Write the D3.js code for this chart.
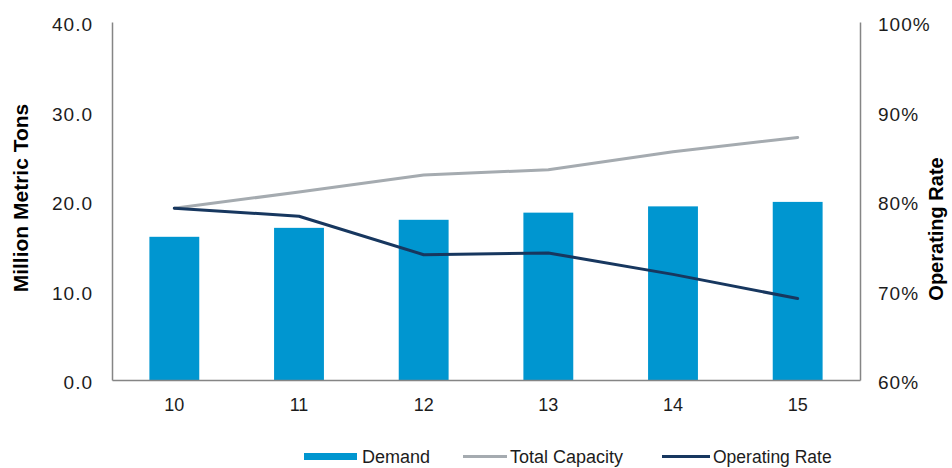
<!DOCTYPE html>
<html>
<head>
<meta charset="utf-8">
<script src="https://cdn.jsdelivr.net/npm/d3@7"></script>
<style>
  html, body { margin: 0; padding: 0; background: #fff; }
  svg { display: block; font-family: "Liberation Sans", Arial, sans-serif; }
</style>
</head>
<body>
<svg id="chart" width="952" height="468"></svg>
<script>
// Years (20xx) on the category axis
const years = ["10", "11", "12", "13", "14", "15"];
// Demand, million metric tons (bars, left axis)
const demand = [16.0, 17.0, 17.9, 18.7, 19.4, 19.9];
// Total capacity, million metric tons (grey line, left axis)
const capacity = [19.2, 21.0, 22.9, 23.5, 25.5, 27.1];
// Operating rate, percent (navy line, right axis)
const operatingRate = [79.2, 78.3, 74.0, 74.2, 71.8, 69.1];
// Axis ticks
const leftTicks = [0, 10, 20, 30, 40];
const rightTicks = [60, 70, 80, 90, 100];

const colors = { demand: "#0096D0", capacity: "#A5ABB0", rate: "#17375F", axis: "#858585", text: "#1c1c1c" };

const svg = d3.select("#chart");
const plot = { left: 112, right: 860, top: 22, bottom: 380 };

const x = d3.scaleBand().domain(years).range([plot.left, plot.right]).paddingInner(0.6).paddingOuter(0.3);
const yL = d3.scaleLinear().domain([0, 40]).range([plot.bottom, plot.top]);
const yR = d3.scaleLinear().domain([60, 100]).range([plot.bottom, plot.top]);
const cx = d => x(d) + x.bandwidth() / 2;

// Bars
svg.append("g").selectAll("rect").data(years).join("rect")
  .attr("x", d => x(d))
  .attr("y", (d, i) => yL(demand[i]))
  .attr("width", x.bandwidth())
  .attr("height", (d, i) => yL(0) - yL(demand[i]))
  .attr("fill", colors.demand);

// Lines
const capLine = d3.line().x((d, i) => cx(years[i])).y(d => yL(d));
const rateLine = d3.line().x((d, i) => cx(years[i])).y(d => yR(d));
svg.append("path").datum(capacity).attr("d", capLine)
  .attr("fill", "none").attr("stroke", colors.capacity).attr("stroke-width", 3)
  .attr("stroke-linejoin", "round").attr("stroke-linecap", "round");
svg.append("path").datum(operatingRate).attr("d", rateLine)
  .attr("fill", "none").attr("stroke", colors.rate).attr("stroke-width", 3)
  .attr("stroke-linejoin", "round").attr("stroke-linecap", "round");

// Axes
function styleAxis(g) {
  g.select(".domain").attr("stroke", colors.axis).attr("stroke-width", 1.5);
  g.selectAll("text").attr("fill", colors.text).attr("font-family", "Liberation Sans, Arial, sans-serif");
}
svg.append("g").attr("transform", `translate(${plot.left},0)`)
  .call(d3.axisLeft(yL).tickValues(leftTicks).tickFormat(d3.format(".1f")).tickSize(0).tickSizeOuter(0).tickPadding(19))
  .call(styleAxis)
  .call(g => g.selectAll("text").attr("font-size", 19).attr("letter-spacing", "1px").attr("dy", "0.45em"));

svg.append("g").attr("transform", `translate(${plot.right},0)`)
  .call(d3.axisRight(yR).tickValues(rightTicks).tickFormat(d => d + "%").tickSize(0).tickSizeOuter(0).tickPadding(18))
  .call(styleAxis)
  .call(g => g.selectAll("text").attr("font-size", 19).attr("letter-spacing", "1px").attr("dy", "0.45em"));

svg.append("g").attr("transform", `translate(0,${plot.bottom})`)
  .call(d3.axisBottom(x).tickSize(0).tickSizeOuter(0).tickPadding(18))
  .call(styleAxis)
  .call(g => g.selectAll("text").attr("font-size", 18));

// Axis titles
svg.append("text")
  .attr("transform", "translate(28,198) rotate(-90)")
  .attr("text-anchor", "middle").attr("font-weight", "bold").attr("font-size", 21)
  .attr("fill", "#000").text("Million Metric Tons");
svg.append("text")
  .attr("transform", "translate(943,229) rotate(-90)")
  .attr("text-anchor", "middle").attr("font-weight", "bold").attr("font-size", 20)
  .attr("fill", "#000").text("Operating Rate");

// Legend
const legend = svg.append("g").attr("font-size", 18).attr("fill", colors.text);
legend.append("rect").attr("x", 304).attr("y", 453).attr("width", 53).attr("height", 7).attr("fill", colors.demand);
legend.append("text").attr("x", 362).attr("y", 463).text("Demand");
legend.append("line").attr("x1", 463).attr("x2", 507).attr("y1", 456.5).attr("y2", 456.5)
  .attr("stroke", colors.capacity).attr("stroke-width", 3);
legend.append("text").attr("x", 510).attr("y", 463).text("Total Capacity");
legend.append("line").attr("x1", 662).attr("x2", 710).attr("y1", 456.5).attr("y2", 456.5)
  .attr("stroke", colors.rate).attr("stroke-width", 3);
legend.append("text").attr("x", 713).attr("y", 463).attr("font-size", 17.5).text("Operating Rate");
</script>
</body>
</html>
